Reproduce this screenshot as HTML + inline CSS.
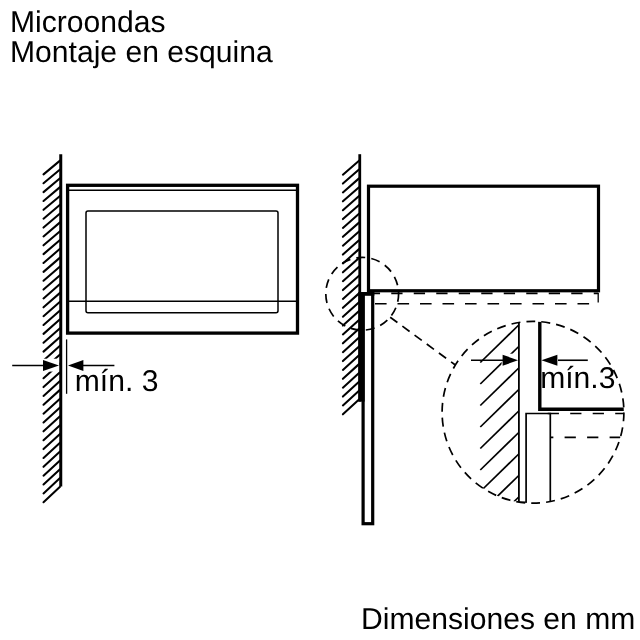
<!DOCTYPE html>
<html lang="es"><head><meta charset="utf-8"><title>Microondas - Montaje en esquina</title>
<style>
html,body{margin:0;padding:0;background:#fff;}
body{width:640px;height:640px;overflow:hidden;}
svg{display:block;will-change:transform;transform:translateZ(0);}
text{font-family:"Liberation Sans",sans-serif;text-rendering:geometricPrecision;}
</style></head><body>
<svg width="640" height="640" viewBox="0 0 640 640">
<rect width="640" height="640" fill="#fff"/>
<g id="left" stroke="#000" fill="none" stroke-linecap="butt">
<line x1="43.5" y1="174.40" x2="60" y2="160.65" stroke-width="2.05" stroke-linecap="round"/>
<line x1="43.5" y1="183.26" x2="60" y2="169.47" stroke-width="2.05" stroke-linecap="round"/>
<line x1="43.5" y1="192.12" x2="60" y2="178.28" stroke-width="2.05" stroke-linecap="round"/>
<line x1="43.5" y1="200.98" x2="60" y2="187.10" stroke-width="2.05" stroke-linecap="round"/>
<line x1="43.5" y1="209.84" x2="60" y2="195.91" stroke-width="2.05" stroke-linecap="round"/>
<line x1="43.5" y1="218.70" x2="60" y2="204.73" stroke-width="2.05" stroke-linecap="round"/>
<line x1="43.5" y1="227.56" x2="60" y2="213.55" stroke-width="2.05" stroke-linecap="round"/>
<line x1="43.5" y1="236.43" x2="60" y2="222.36" stroke-width="2.05" stroke-linecap="round"/>
<line x1="43.5" y1="245.29" x2="60" y2="231.18" stroke-width="2.05" stroke-linecap="round"/>
<line x1="43.5" y1="254.15" x2="60" y2="240.00" stroke-width="2.05" stroke-linecap="round"/>
<line x1="43.5" y1="263.01" x2="60" y2="248.81" stroke-width="2.05" stroke-linecap="round"/>
<line x1="43.5" y1="271.87" x2="60" y2="257.63" stroke-width="2.05" stroke-linecap="round"/>
<line x1="43.5" y1="280.73" x2="60" y2="266.44" stroke-width="2.05" stroke-linecap="round"/>
<line x1="43.5" y1="289.59" x2="60" y2="275.26" stroke-width="2.05" stroke-linecap="round"/>
<line x1="43.5" y1="298.45" x2="60" y2="284.08" stroke-width="2.05" stroke-linecap="round"/>
<line x1="43.5" y1="307.31" x2="60" y2="292.89" stroke-width="2.05" stroke-linecap="round"/>
<line x1="43.5" y1="316.17" x2="60" y2="301.71" stroke-width="2.05" stroke-linecap="round"/>
<line x1="43.5" y1="325.03" x2="60" y2="310.53" stroke-width="2.05" stroke-linecap="round"/>
<line x1="43.5" y1="333.89" x2="60" y2="319.34" stroke-width="2.05" stroke-linecap="round"/>
<line x1="43.5" y1="342.76" x2="60" y2="328.16" stroke-width="2.05" stroke-linecap="round"/>
<line x1="43.5" y1="351.62" x2="60" y2="336.97" stroke-width="2.05" stroke-linecap="round"/>
<line x1="43.5" y1="360.48" x2="60" y2="345.79" stroke-width="2.05" stroke-linecap="round"/>
<line x1="43.5" y1="369.34" x2="60" y2="354.61" stroke-width="2.05" stroke-linecap="round"/>
<line x1="43.5" y1="378.20" x2="60" y2="363.42" stroke-width="2.05" stroke-linecap="round"/>
<line x1="43.5" y1="387.06" x2="60" y2="372.24" stroke-width="2.05" stroke-linecap="round"/>
<line x1="43.5" y1="395.92" x2="60" y2="381.06" stroke-width="2.05" stroke-linecap="round"/>
<line x1="43.5" y1="404.78" x2="60" y2="389.87" stroke-width="2.05" stroke-linecap="round"/>
<line x1="43.5" y1="413.64" x2="60" y2="398.69" stroke-width="2.05" stroke-linecap="round"/>
<line x1="43.5" y1="422.50" x2="60" y2="407.50" stroke-width="2.05" stroke-linecap="round"/>
<line x1="43.5" y1="431.36" x2="60" y2="416.32" stroke-width="2.05" stroke-linecap="round"/>
<line x1="43.5" y1="440.22" x2="60" y2="425.14" stroke-width="2.05" stroke-linecap="round"/>
<line x1="43.5" y1="449.09" x2="60" y2="433.95" stroke-width="2.05" stroke-linecap="round"/>
<line x1="43.5" y1="457.95" x2="60" y2="442.77" stroke-width="2.05" stroke-linecap="round"/>
<line x1="43.5" y1="466.81" x2="60" y2="451.59" stroke-width="2.05" stroke-linecap="round"/>
<line x1="43.5" y1="475.67" x2="60" y2="460.40" stroke-width="2.05" stroke-linecap="round"/>
<line x1="43.5" y1="484.53" x2="60" y2="469.22" stroke-width="2.05" stroke-linecap="round"/>
<line x1="43.5" y1="493.39" x2="60" y2="478.03" stroke-width="2.05" stroke-linecap="round"/>
<line x1="43.5" y1="502.25" x2="60" y2="486.85" stroke-width="2.05" stroke-linecap="round"/>
</g>
<rect x="41.5" y="358.7" width="18" height="12.9" fill="#fff"/>
<g stroke="#000" fill="none">
<line x1="60.75" y1="154.20" x2="60.75" y2="486.60" stroke-width="3" />
<rect x="67.6" y="185.3" width="229.9" height="147.8" stroke-width="3.3"/>
<line x1="67.60" y1="190.20" x2="297.50" y2="190.20" stroke-width="1.4" />
<line x1="67.60" y1="301.30" x2="297.50" y2="301.30" stroke-width="1.4" />
<rect x="86" y="211" width="192" height="101.8" rx="2" ry="2" stroke-width="1.5"/>
<line x1="66.60" y1="339.40" x2="66.60" y2="393.80" stroke-width="1.3" />
<line x1="12.20" y1="365.50" x2="45.00" y2="365.50" stroke-width="1.6" />
<line x1="80.00" y1="365.50" x2="114.40" y2="365.50" stroke-width="1.6" />
</g>
<polygon points="43.0,360.0 59.0,365.5 43.0,371.0" fill="#000"/>
<polygon points="83.4,360.0 68.0,365.5 83.4,371.0" fill="#000"/>
<g stroke="#000" fill="none">
<line x1="342.9" y1="174.70" x2="359" y2="160.70" stroke-width="2.05" stroke-linecap="round"/>
<line x1="342.9" y1="183.57" x2="359" y2="169.54" stroke-width="2.05" stroke-linecap="round"/>
<line x1="342.9" y1="192.45" x2="359" y2="178.39" stroke-width="2.05" stroke-linecap="round"/>
<line x1="342.9" y1="201.32" x2="359" y2="187.23" stroke-width="2.05" stroke-linecap="round"/>
<line x1="342.9" y1="210.20" x2="359" y2="196.08" stroke-width="2.05" stroke-linecap="round"/>
<line x1="342.9" y1="219.07" x2="359" y2="204.92" stroke-width="2.05" stroke-linecap="round"/>
<line x1="342.9" y1="227.94" x2="359" y2="213.77" stroke-width="2.05" stroke-linecap="round"/>
<line x1="342.9" y1="236.82" x2="359" y2="222.61" stroke-width="2.05" stroke-linecap="round"/>
<line x1="342.9" y1="245.69" x2="359" y2="231.46" stroke-width="2.05" stroke-linecap="round"/>
<line x1="342.9" y1="254.57" x2="359" y2="240.30" stroke-width="2.05" stroke-linecap="round"/>
<line x1="342.9" y1="263.44" x2="359" y2="249.14" stroke-width="2.05" stroke-linecap="round"/>
<line x1="342.9" y1="272.31" x2="359" y2="257.99" stroke-width="2.05" stroke-linecap="round"/>
<line x1="342.9" y1="281.19" x2="359" y2="266.83" stroke-width="2.05" stroke-linecap="round"/>
<line x1="342.9" y1="290.06" x2="359" y2="275.68" stroke-width="2.05" stroke-linecap="round"/>
<line x1="342.9" y1="298.94" x2="359" y2="284.52" stroke-width="2.05" stroke-linecap="round"/>
<line x1="342.9" y1="307.81" x2="359" y2="293.37" stroke-width="2.05" stroke-linecap="round"/>
<line x1="342.9" y1="316.69" x2="359" y2="302.21" stroke-width="2.05" stroke-linecap="round"/>
<line x1="342.9" y1="325.56" x2="359" y2="311.06" stroke-width="2.05" stroke-linecap="round"/>
<line x1="342.9" y1="334.43" x2="359" y2="319.90" stroke-width="2.05" stroke-linecap="round"/>
<line x1="342.9" y1="343.31" x2="359" y2="328.74" stroke-width="2.05" stroke-linecap="round"/>
<line x1="342.9" y1="352.18" x2="359" y2="337.59" stroke-width="2.05" stroke-linecap="round"/>
<line x1="342.9" y1="361.06" x2="359" y2="346.43" stroke-width="2.05" stroke-linecap="round"/>
<line x1="342.9" y1="369.93" x2="359" y2="355.28" stroke-width="2.05" stroke-linecap="round"/>
<line x1="342.9" y1="378.80" x2="359" y2="364.12" stroke-width="2.05" stroke-linecap="round"/>
<line x1="342.9" y1="387.68" x2="359" y2="372.97" stroke-width="2.05" stroke-linecap="round"/>
<line x1="342.9" y1="396.55" x2="359" y2="381.81" stroke-width="2.05" stroke-linecap="round"/>
<line x1="342.9" y1="405.43" x2="359" y2="390.66" stroke-width="2.05" stroke-linecap="round"/>
<line x1="342.9" y1="414.30" x2="359" y2="399.50" stroke-width="2.05" stroke-linecap="round"/>
<line x1="359.75" y1="154.20" x2="359.75" y2="401.60" stroke-width="2.8" />
<rect x="368.5" y="186.2" width="230" height="104.55" stroke-width="3.2"/>
<rect x="363.1" y="293.7" width="9.6" height="230" stroke-width="3.2"/>
<rect x="358.35" y="292.1" width="15.95" height="3.6" fill="#000" stroke="none"/>
<rect x="358.35" y="292.2" width="6.3" height="109.4" fill="#000" stroke="none"/>
<path d="M368.75,293.4 H598.4" stroke-width="1.8" stroke-dasharray="11.3 11.2"/>
<path d="M375,303.8 H590" stroke-width="1.6" stroke-dasharray="11.6 10.9"/>
<path d="M598.2,293 V302.6" stroke-width="1.3"/>
<circle cx="362.2" cy="293.8" r="36.4" stroke-width="1.7" stroke-dasharray="8.95 6.16" stroke-dashoffset="0.86"/>
<path d="M390.2,317.2 L455,364.8" stroke-width="1.7" stroke-dasharray="8.95 6.16"/>
<circle cx="533.0" cy="412.3" r="90.9" stroke-width="1.7" stroke-dasharray="8.95 6.08" stroke-dashoffset="14.88"/>
</g>
<clipPath id="bc"><circle cx="533.0" cy="412.3" r="90.9"/></clipPath>
<g clip-path="url(#bc)" stroke="#000" fill="none">
<line x1="518.75" y1="325.00" x2="480.3" y2="362.50" stroke-width="1.7"/>
<line x1="518.75" y1="346.50" x2="480.3" y2="384.00" stroke-width="1.7"/>
<line x1="518.75" y1="368.00" x2="480.3" y2="405.50" stroke-width="1.7"/>
<line x1="518.75" y1="389.50" x2="480.3" y2="427.00" stroke-width="1.7"/>
<line x1="518.75" y1="411.00" x2="480.3" y2="448.50" stroke-width="1.7"/>
<line x1="518.75" y1="432.50" x2="480.3" y2="470.00" stroke-width="1.7"/>
<line x1="518.75" y1="454.00" x2="480.3" y2="491.50" stroke-width="1.7"/>
<line x1="518.75" y1="475.50" x2="480.3" y2="513.00" stroke-width="1.7"/>
<line x1="518.75" y1="497.00" x2="480.3" y2="534.50" stroke-width="1.7"/>
</g>
<rect x="501.6" y="353.7" width="16.5" height="13.1" fill="#fff"/>
<g clip-path="url(#bc)" stroke="#000" fill="none">
<line x1="518.90" y1="321.00" x2="518.90" y2="502.40" stroke-width="1.8" />
<path d="M539.8,320 V409.2 H627" stroke-width="3.4"/>
<path d="M518.9,502.4 H526.1 V413.5 H550.3 V503" stroke-width="1.7"/>
<path d="M547.7,413.5 H627" stroke-width="1.7" stroke-dasharray="11.25 11.25"/>
<path d="M550.3,437.3 H627" stroke-width="1.7" stroke-dasharray="11.25 11.25" stroke-dashoffset="8.2"/>
</g>
<g stroke="#000" fill="none">
<line x1="471.00" y1="360.25" x2="504.00" y2="360.25" stroke-width="1.6" />
<line x1="558.00" y1="360.25" x2="587.80" y2="360.25" stroke-width="1.6" />
</g>
<polygon points="502.6,354.7 518,360.25 502.6,365.8" fill="#000"/>
<polygon points="557.4,354.7 541.4,360.25 557.4,365.8" fill="#000"/>
<g class="t">
<text x="10.0" y="31.8" font-size="30.1" fill="#000">Microondas</text>
<text x="10.0" y="62" font-size="30.1" fill="#000">Montaje en esquina</text>
<text x="74.8" y="391.1" font-size="30.1" fill="#000">mín. 3</text>
<text x="540.2" y="388.3" font-size="30.1" fill="#000">mín.3</text>
<text x="361.0" y="628.7" font-size="30.1" fill="#000">Dimensiones en mm</text>
</g>
</svg>
</body></html>
